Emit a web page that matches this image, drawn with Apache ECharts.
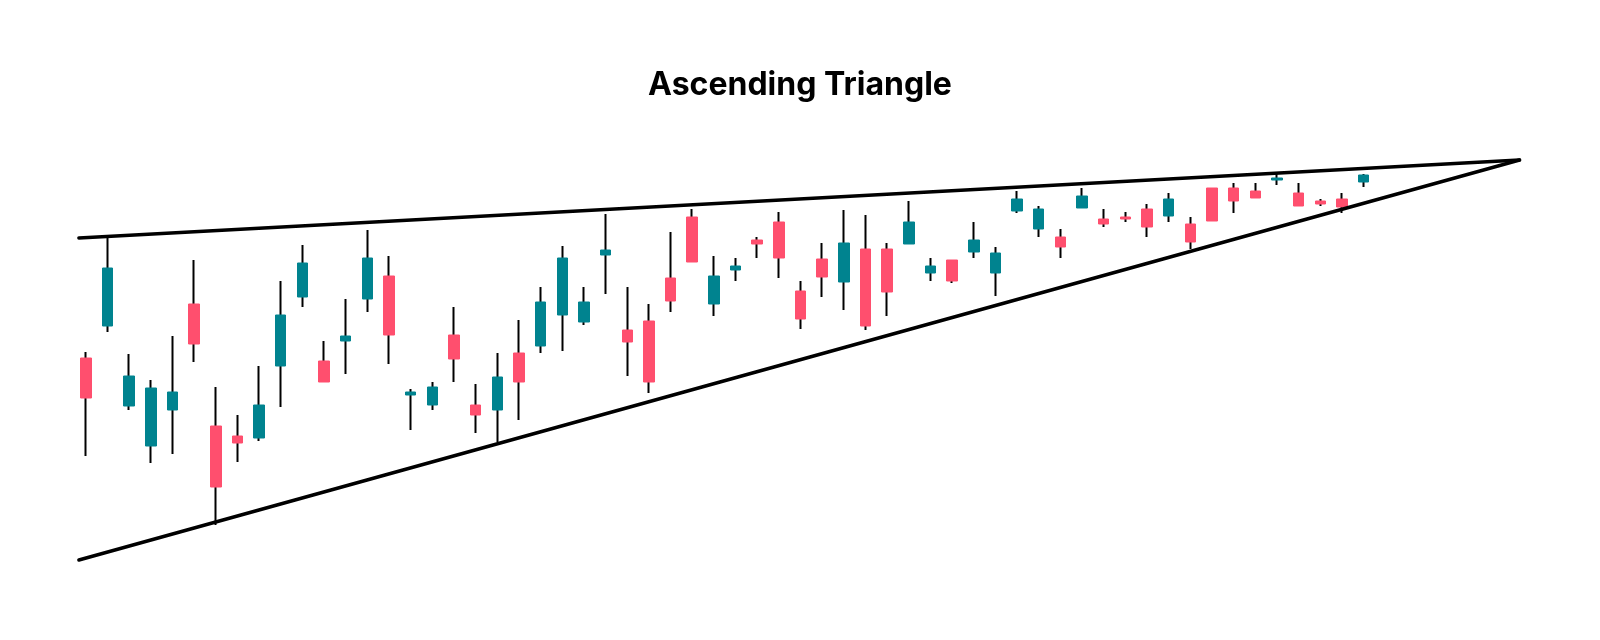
<!DOCTYPE html>
<html>
<head>
<meta charset="utf-8">
<title>Ascending Triangle</title>
<script src="https://cdn.jsdelivr.net/npm/echarts@6/dist/echarts.min.js"></script>
<style>
  html, body { margin: 0; padding: 0; background: #fff; }
  #chart { width: 1600px; height: 640px; }
</style>
</head>
<body>
<div id="chart"></div>
<script>
    // candle values, one entry per session
    var openPrices  = [242, 274, 194, 154, 190, 296, 174, 164, 162, 234, 303, 239, 259, 301, 324, 205, 195, 265, 195, 190,
                       247, 254, 285, 278, 345, 270, 279, 322, 383, 296, 330, 360, 378, 309, 341, 318, 351, 351, 356, 327,
                       340, 348, 327, 389, 371, 363, 392, 381, 383, 391, 384, 376, 412, 412, 409, 420, 407, 399, 401, 418];
    var closePrices = [202, 332, 224, 212, 208, 256, 113, 157, 195, 285, 337, 218, 264, 342, 265, 208, 213, 241, 185, 223,
                       218, 298, 342, 298, 350, 258, 218, 299, 338, 324, 334, 356, 342, 281, 323, 357, 274, 308, 378, 334,
                       319, 360, 347, 401, 391, 353, 404, 376, 381, 373, 401, 358, 379, 399, 402, 422, 394, 396, 393, 425];
    var lowPrices   = [144, 268, 190, 137, 146, 238,  75, 138, 159, 193, 293, 218, 226, 288, 236, 170, 190, 218, 167, 158,
                       180, 247, 249, 275, 306, 224, 207, 288, 338, 284, 319, 342, 322, 271, 303, 290, 270, 284, 356, 319,
                       317, 342, 304, 387, 363, 342, 392, 373, 378, 363, 378, 351, 379, 387, 402, 415, 394, 394, 387, 413];
    var highPrices  = [248, 362, 246, 220, 264, 340, 213, 185, 234, 319, 355, 259, 301, 370, 344, 211, 218, 293, 216, 247,
                       280, 313, 354, 313, 386, 313, 296, 368, 391, 344, 342, 363, 388, 319, 357, 390, 385, 357, 399, 342,
                       340, 378, 353, 409, 394, 371, 412, 391, 388, 396, 407, 383, 412, 417, 417, 426, 417, 401, 407, 426];

    // trend lines as [session index, price]
    var resistanceLine = [[-0.32, 362], [66.2, 440]];
    var supportLine    = [[-0.32, 40], [66.2, 440]];

    var sessionCount = 70;
    var sessions = Array.from({length: sessionCount}, function (_, i) { return String(i + 1); });

    var upColor = '#00838F',
        downColor = '#FF4F6E';

    var wickData = openPrices.map(function (o, i) {
        return [o, closePrices[i], lowPrices[i], highPrices[i]];
    });
    var bodyData = openPrices.map(function (o, i) {
        var c = closePrices[i];
        return [o, c, Math.min(o, c), Math.max(o, c)];
    });

    var chart = echarts.init(document.getElementById('chart'));
    var option = {
        animation: false,
        backgroundColor: '#fff',
        title: {
            text: 'Ascending Triangle',
            left: 'center',
            top: 64,
            textStyle: {
                color: '#000',
                fontFamily: 'Inter',
                fontWeight: 'bold',
                fontSize: 32
            }
        },
        grid: {
            left: 75,
            width: 1516,
            top: 100,
            bottom: 40
        },
        xAxis: [
            {
                type: 'category',
                data: sessions,
                boundaryGap: true,
                show: false
            },
            {
                type: 'value',
                min: -0.5,
                max: sessionCount - 0.5,
                show: false
            }
        ],
        yAxis: {
            type: 'value',
            min: 0,
            max: 500,
            show: false
        },
        series: [
            {
                name: 'wick',
                type: 'candlestick',
                data: wickData,
                barWidth: 1,
                itemStyle: {
                    color: '#000',
                    color0: '#000',
                    borderColor: '#000',
                    borderColor0: '#000',
                    borderWidth: 2
                },
                z: 2
            },
            {
                name: 'body',
                type: 'candlestick',
                data: bodyData,
                barWidth: 11,
                itemStyle: {
                    color: upColor,
                    color0: downColor,
                    borderColor: upColor,
                    borderColor0: downColor,
                    borderWidth: 1
                },
                z: 3
            },
            {
                name: 'resistance',
                type: 'line',
                xAxisIndex: 1,
                data: resistanceLine,
                symbol: 'none',
                lineStyle: {color: '#000', width: 3.5, cap: 'round'},
                z: 4
            },
            {
                name: 'support',
                type: 'line',
                xAxisIndex: 1,
                data: supportLine,
                symbol: 'none',
                lineStyle: {color: '#000', width: 3.5, cap: 'round'},
                z: 4
            }
        ]
    };
    chart.setOption(option);
</script>
</body>
</html>
